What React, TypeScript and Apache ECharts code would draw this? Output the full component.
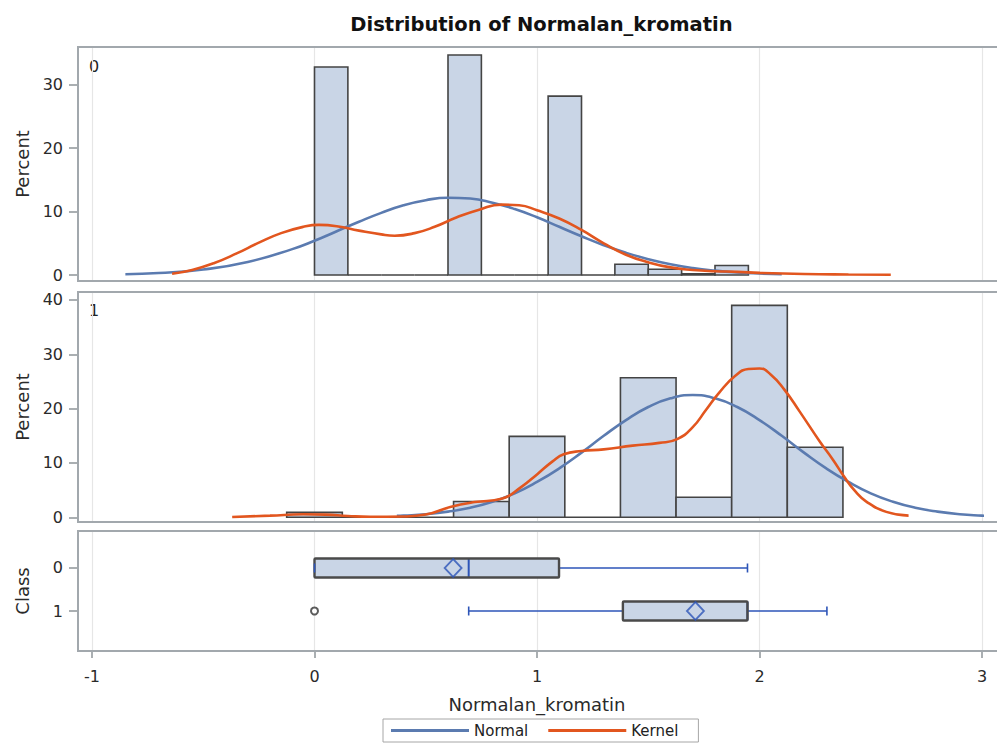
import React, { useEffect, useRef } from "react";
import * as echarts from "echarts";

// ---------- data ----------
const xTicks = [-1, 0, 1, 2, 3];
const pctTicks0 = [0, 10, 20, 30];
const pctTicks1 = [0, 10, 20, 30, 40];
const classTicks = [0, 1];

// Class 0 histogram (bin edges, percent)
const hist0Edges = [0, 0.15, 0.3, 0.45, 0.6, 0.75, 0.9, 1.05, 1.2, 1.35, 1.5, 1.65, 1.8, 1.95];
const hist0Pct = [32.8, 0, 0, 0, 34.7, 0, 0, 28.2, 0, 1.7, 0.9, 0.2, 1.5];

// Class 1 histogram
const hist1Edges = [-0.125, 0.125, 0.375, 0.625, 0.875, 1.125, 1.375, 1.625, 1.875, 2.125, 2.375];
const hist1Pct = [0.9, 0, 0, 2.9, 14.9, 0, 25.7, 3.7, 39.0, 12.9];

// Normal curve, class 0
const normal0 = [
  [-0.85, 0.13], [-0.7, 0.32], [-0.5, 0.87], [-0.3, 2.05], [-0.1, 4.08], [0, 5.4],
  [0.1, 6.9], [0.2, 8.4], [0.3, 9.8], [0.4, 11.0], [0.5, 11.8], [0.6, 12.18],
  [0.7, 12.06], [0.8, 11.4], [0.9, 10.4], [1.0, 9.1], [1.1, 7.6], [1.2, 6.1],
  [1.3, 4.7], [1.4, 3.5], [1.5, 2.5], [1.6, 1.7], [1.7, 1.1], [1.8, 0.69],
  [1.9, 0.41], [2.0, 0.24], [2.1, 0.13],
];

// Kernel curve, class 0
const kernel0 = [
  [-0.64, 0.2], [-0.55, 0.8], [-0.45, 1.9], [-0.35, 3.4], [-0.25, 5.1], [-0.15, 6.6],
  [-0.05, 7.6], [0.02, 7.9], [0.1, 7.7], [0.2, 7.0], [0.3, 6.4], [0.36, 6.2],
  [0.45, 6.6], [0.54, 7.6], [0.64, 9.1], [0.74, 10.3], [0.84, 11.1], [0.92, 11.0],
  [1.0, 10.2], [1.1, 8.9], [1.2, 7.1], [1.3, 5.0], [1.4, 3.2], [1.5, 2.0],
  [1.6, 1.2], [1.7, 0.8], [1.8, 0.6], [1.9, 0.5], [2.0, 0.33], [2.2, 0.15],
  [2.4, 0.08], [2.59, 0.05],
];

// Normal curve, class 1
const normal1 = [
  [0.37, 0.26], [0.4, 0.31], [0.5, 0.57], [0.6, 1.04], [0.7, 1.76], [0.8, 2.86],
  [0.9, 4.4], [1.0, 6.5], [1.1, 9.0], [1.2, 11.9], [1.3, 15.0], [1.4, 17.9],
  [1.5, 20.3], [1.6, 21.9], [1.7, 22.5], [1.8, 21.9], [1.9, 20.3], [2.0, 17.9],
  [2.1, 15.0], [2.2, 11.9], [2.3, 9.0], [2.4, 6.5], [2.5, 4.4], [2.6, 2.86],
  [2.7, 1.76], [2.8, 1.04], [2.9, 0.57], [3.0, 0.31], [3.03, 0.26],
];

// Kernel curve, class 1
const kernel1 = [
  [-0.37, 0.05], [-0.2, 0.3], [-0.05, 0.55], [0.05, 0.5], [0.15, 0.25], [0.25, 0.1],
  [0.4, 0.15], [0.5, 0.5], [0.61, 1.9], [0.72, 2.8], [0.84, 3.4], [0.93, 5.6],
  [1.0, 7.9], [1.07, 10.3], [1.12, 11.6], [1.2, 12.2], [1.3, 12.5], [1.43, 13.2],
  [1.55, 13.7], [1.63, 14.4], [1.7, 16.6], [1.76, 19.8], [1.82, 23.0], [1.89, 26.0],
  [1.95, 27.3], [2.0, 27.4], [2.05, 26.3], [2.11, 23.6], [2.18, 19.5], [2.27, 14.0],
  [2.33, 10.6], [2.38, 7.5], [2.43, 4.8], [2.48, 2.9], [2.57, 1.0], [2.67, 0.3],
];

// Box plot statistics per class
const boxClasses = [0, 1];
const boxMin = [0, 0.693];
const boxQ1 = [0, 1.386];
const boxMedian = [0.693, 1.946];
const boxQ3 = [1.099, 1.946];
const boxMax = [1.946, 2.303];
const boxMean = [0.623, 1.712];
const outlierX = [0];
const outlierClass = [1];

// ---------- styles ----------
const FONT = "DejaVu Sans";
const BAR_FILL = "#c9d5e6";
const BAR_EDGE = "#444444";
const NORMAL_C = "#5b7bb0";
const KERNEL_C = "#e2561f";
const WHISK = "#2d55b8";
const FRAME = "#a2a8ad";
const GRIDLINE = "#e6e6e6";
const TICKC = "#8e9499";

export default function App() {
  const ref = useRef<HTMLDivElement>(null);

  useEffect(() => {
    const chart = echarts.init(ref.current!, null, { renderer: "svg" });

    const hist0 = hist0Pct.map((p, i) => [hist0Edges[i], hist0Edges[i + 1], p]);
    const hist1 = hist1Pct.map((p, i) => [hist1Edges[i], hist1Edges[i + 1], p]);
    const boxData = boxClasses.map((c, i) => [c, boxMin[i], boxQ1[i], boxMedian[i], boxQ3[i], boxMax[i]]);
    const meanData = boxClasses.map((c, i) => [boxMean[i], c]);
    const outData = outlierX.map((x, i) => [x, outlierClass[i]]);

    const histRender = (params: any, api: any) => {
      const a = api.coord([api.value(0), api.value(2)]);
      const b = api.coord([api.value(1), 0]);
      return {
        type: "rect",
        shape: { x: a[0], y: a[1], width: b[0] - a[0], height: b[1] - a[1] },
        style: { fill: BAR_FILL, stroke: BAR_EDGE, lineWidth: 1.6 },
      };
    };

    const boxRender = (params: any, api: any) => {
      const cls = api.value(0);
      const pMin = api.coord([api.value(1), cls]);
      const pQ1 = api.coord([api.value(2), cls]);
      const pMed = api.coord([api.value(3), cls]);
      const pQ3 = api.coord([api.value(4), cls]);
      const pMax = api.coord([api.value(5), cls]);
      const y = pQ1[1];
      const h = 19;
      const cap = 9;
      const wl = { stroke: WHISK, lineWidth: 1.6 };
      return {
        type: "group",
        children: [
          { type: "line", shape: { x1: pMin[0], y1: y, x2: pQ1[0], y2: y }, style: wl },
          { type: "line", shape: { x1: pQ3[0], y1: y, x2: pMax[0], y2: y }, style: wl },
          { type: "rect", shape: { x: pQ1[0], y: y - h / 2, width: pQ3[0] - pQ1[0], height: h }, style: { fill: BAR_FILL } },
          { type: "line", shape: { x1: pMed[0], y1: y - h / 2, x2: pMed[0], y2: y + h / 2 }, style: { stroke: WHISK, lineWidth: 2 } },
          { type: "rect", shape: { x: pQ1[0], y: y - h / 2, width: pQ3[0] - pQ1[0], height: h, r: 1 }, style: { fill: "none", stroke: "#4a4a4a", lineWidth: 2.4 } },
          { type: "line", shape: { x1: pMin[0], y1: y - cap / 2, x2: pMin[0], y2: y + cap / 2 }, style: wl },
          { type: "line", shape: { x1: pMax[0], y1: y - cap / 2, x2: pMax[0], y2: y + cap / 2 }, style: wl },
        ],
      };
    };

    const tickLabel = { fontFamily: FONT, fontSize: 16, color: "#2a2a2a" };
    const axisName = { fontFamily: FONT, fontSize: 18, color: "#2a2a2a" };

    const grids = [
      { left: 92, right: 15, top: 47, height: 234 },
      { left: 92, right: 15, top: 292, height: 230 },
      { left: 92, right: 15, top: 531, height: 120 },
    ];

    const xAxes = grids.map((_, i) => ({
      type: "value",
      gridIndex: i,
      min: -1,
      max: 3,
      interval: 1,
      position: "bottom",
      axisLine: { show: false, onZero: false },
      axisTick: { show: i === 2, length: 7, lineStyle: { color: TICKC, width: 1.5 } },
      axisLabel: { show: i === 2, margin: 17, ...tickLabel },
      splitLine: { show: true, lineStyle: { color: GRIDLINE, width: 1.2 } },
      name: i === 2 ? "Normalan_kromatin" : "",
      nameLocation: "middle",
      nameGap: 44,
      nameTextStyle: axisName,
    }));

    const yBase = (i: number, min: number, max: number, ticks: number[], name: string, inverse = false) => ({
      type: "value",
      gridIndex: i,
      min,
      max,
      inverse,
      position: "left",
      offset: 14,
      axisLine: { show: false, onZero: false },
      axisTick: { show: true, length: 9, customValues: ticks, lineStyle: { color: TICKC, width: 1.5 } },
      axisLabel: { show: true, margin: 15, customValues: ticks, ...tickLabel },
      splitLine: { show: false },
      name,
      nameLocation: "middle",
      nameGap: 47,
      nameTextStyle: axisName,
    });

    const yAxes = [
      yBase(0, -0.946, 35.95, pctTicks0, "Percent"),
      yBase(1, -0.865, 41.47, pctTicks1, "Percent"),
      yBase(2, -0.86, 1.93, classTicks, "Class", true),
    ];

    const frames = grids.map((g) => ({
      type: "rect",
      z: 100,
      silent: true,
      shape: { x: 78, y: g.top, width: 940, height: g.height },
      style: { fill: "none", stroke: FRAME, lineWidth: 2 },
    }));

    const lineSeries = (name: string, data: number[][], color: string, gi: number) => ({
      type: "line",
      name,
      xAxisIndex: gi,
      yAxisIndex: gi,
      data,
      showSymbol: false,
      smooth: true,
      z: 5,
      lineStyle: { color, width: 2.6 },
      itemStyle: { color },
    });

    const option: any = {
      animation: false,
      backgroundColor: "#ffffff",
      grid: grids,
      xAxis: xAxes,
      yAxis: yAxes,
      legend: {
        left: 383,
        top: 719,
        data: ["Normal", "Kernel"],
        icon: "rect",
        itemWidth: 78,
        itemHeight: 3,
        itemGap: 20,
        padding: [4, 20, 4, 8],
        borderColor: "#a6a6a6",
        borderWidth: 1,
        textStyle: { fontFamily: FONT, fontSize: 15, color: "#222" },
      },
      graphic: [
        {
          type: "text",
          x: 541.5,
          y: 24.5,
          style: {
            text: "Distribution of Normalan_kromatin",
            font: `bold 19.5px "${FONT}"`,
            fill: "#111",
            align: "center",
            verticalAlign: "middle",
            textAlign: "center",
            textVerticalAlign: "middle",
          },
        },
        {
          type: "text",
          x: 89,
          y: 66,
          style: { text: "0", font: `16px "${FONT}"`, fill: "#222", verticalAlign: "middle", textVerticalAlign: "middle" },
        },
        {
          type: "text",
          x: 89,
          y: 310,
          style: { text: "1", font: `16px "${FONT}"`, fill: "#222", verticalAlign: "middle", textVerticalAlign: "middle" },
        },
        ...frames,
      ],
      series: [
        {
          type: "custom",
          name: "hist0",
          xAxisIndex: 0,
          yAxisIndex: 0,
          renderItem: histRender,
          encode: { x: [0, 1], y: 2 },
          data: hist0,
          z: 2,
        },
        {
          type: "custom",
          name: "hist1",
          xAxisIndex: 1,
          yAxisIndex: 1,
          renderItem: histRender,
          encode: { x: [0, 1], y: 2 },
          data: hist1,
          z: 2,
        },
        lineSeries("Normal", normal0, NORMAL_C, 0),
        lineSeries("Kernel", kernel0, KERNEL_C, 0),
        lineSeries("Normal", normal1, NORMAL_C, 1),
        lineSeries("Kernel", kernel1, KERNEL_C, 1),
        {
          type: "custom",
          name: "box",
          xAxisIndex: 2,
          yAxisIndex: 2,
          renderItem: boxRender,
          encode: { x: [1, 2, 3, 4, 5], y: 0 },
          data: boxData,
          z: 2,
        },
        {
          type: "scatter",
          name: "mean",
          xAxisIndex: 2,
          yAxisIndex: 2,
          data: meanData,
          symbol: "diamond",
          symbolSize: [17, 18],
          z: 6,
          itemStyle: { color: "rgba(0,0,0,0)", borderColor: WHISK, borderWidth: 1.8 },
        },
        {
          type: "scatter",
          name: "outlier",
          xAxisIndex: 2,
          yAxisIndex: 2,
          data: outData,
          symbol: "circle",
          symbolSize: 7,
          z: 6,
          itemStyle: { color: "#ffffff", borderColor: "#333", borderWidth: 2 },
        },
      ],
    };

    chart.setOption(option);
    return () => chart.dispose();
  }, []);

  return (
    <div
      ref={ref}
      style={{ position: "fixed", left: 0, top: 0, width: 997, height: 745, background: "#fff" }}
    />
  );
}
